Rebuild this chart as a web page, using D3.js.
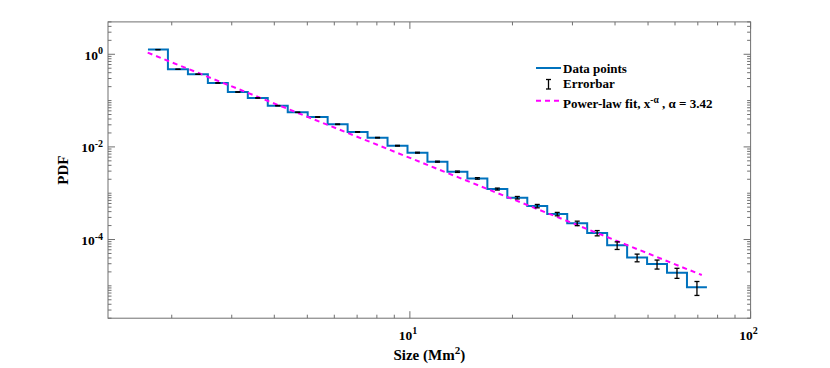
<!DOCTYPE html>
<html><head><meta charset="utf-8">
<script src="https://cdn.jsdelivr.net/npm/d3@7"></script>
<style>body{margin:0;background:#fff}svg{display:block}</style>
</head><body>
<svg id="c" width="830" height="368"></svg>
<script>
// Bin edges (Mm^2), log-uniform histogram bins
const binEdges = [1.703,1.949,2.231,2.553,2.922,3.344,3.827,4.380,5.012,5.736,6.565,7.513,8.598,9.840,11.26,12.89,14.75,16.88,19.32,22.11,25.30,28.96,33.14,37.93,43.41,49.68,56.84,65.05,74.44];
// PDF values per bin
const pdfValues = [1.26,0.474,0.37,0.24,0.153,0.114,0.0776,0.0558,0.0442,0.0308,0.021,0.0158,0.0106,0.0075,0.0048,0.00291,0.00209,0.00123,0.0008,0.000528,0.000355,0.000224,0.000138,7.5e-5,4.07e-5,2.95e-5,1.92e-5,9.3e-6];
// Error bar half-lengths
const pdfErrors = [0.004,0.002,0.002,0.0015,0.001,0.0009,0.0007,0.0005,0.0005,0.0004,0.0003,0.00025,0.0002,0.00016,0.00012,0.0001,0.00008,0.00006,0.00005,0.000044,0.00003,0.000025,0.000018,0.000014,0.0000077,0.0000065,0.0000047,0.0000031];
// Power-law fit line endpoints
const fitX = [1.70, 71.9];
const fitY = [1.083, 1.71e-5];
const xTicks = [10, 100];
const xTickExp = ["1", "2"];
const yTicks = [1, 1e-2, 1e-4];
const yTickExp = ["0", "-2", "-4"];

const svg = d3.select("#c");
const L = 108, R = 750.6, T = 21.9, B = 318.2;
const x = d3.scaleLog().domain([1.3, 100]).range([L, R]);
const y = d3.scaleLog().domain([2e-6, 5]).range([B, T]);
const axCol = "#707070";
const font = "'Liberation Serif','Times New Roman',serif";

// minor ticks
const xMinor = [], yMinor = [];
for (let d = 1; d <= 10; d *= 10) for (let k = 1; k < 10; k++) { const v = k * d; if (v >= 1.3 && v <= 100 && !xTicks.includes(v)) xMinor.push(v); }
for (let e = -6; e <= 0; e++) for (let k = 1; k < 10; k++) { const v = k * Math.pow(10, e); if (v >= 2e-6 && v <= 5 && !yTicks.some(t => Math.abs(t - v) / v < 1e-6)) yMinor.push(v); }

const g = svg.append("g");
function tick(x1, y1, x2, y2) { g.append("line").attr("x1", x1).attr("y1", y1).attr("x2", x2).attr("y2", y2).attr("stroke", axCol).attr("stroke-width", 1); }
xMinor.forEach(v => { const px = x(v); tick(px, B, px, B - 3.5); tick(px, T, px, T + 3.5); });
xTicks.forEach(v => { const px = x(v); tick(px, B, px, B - 7); tick(px, T, px, T + 7); });
yMinor.forEach(v => { const py = y(v); tick(L, py, L + 3.5, py); tick(R, py, R - 3.5, py); });
yTicks.forEach(v => { const py = y(v); tick(L, py, L + 7, py); tick(R, py, R - 7, py); });

g.append("rect").attr("x", L).attr("y", T).attr("width", R - L).attr("height", B - T)
  .attr("fill", "none").attr("stroke", axCol).attr("stroke-width", 1);

// tick labels
xTicks.forEach((v, i) => {
  const t = svg.append("text").attr("x", x(v) - 2).attr("y", 339.5).attr("text-anchor", "middle")
    .attr("font-family", font).attr("font-weight", "bold").attr("font-size", 13.5).attr("fill", "#000");
  t.append("tspan").text("10");
  t.append("tspan").attr("dy", -5.5).attr("font-size", 10).text(xTickExp[i]);
});
yTicks.forEach((v, i) => {
  const t = svg.append("text").attr("x", 103).attr("y", y(v) + 5.5).attr("text-anchor", "end")
    .attr("font-family", font).attr("font-weight", "bold").attr("font-size", 13.5).attr("fill", "#000");
  t.append("tspan").text("10");
  t.append("tspan").attr("dy", -5.5).attr("font-size", 10).text(yTickExp[i]);
});

// axis labels
const xl = svg.append("text").attr("x", (L + R) / 2).attr("y", 360).attr("text-anchor", "middle")
  .attr("font-family", font).attr("font-weight", "bold").attr("font-size", 15).attr("fill", "#000");
xl.append("tspan").text("Size (Mm");
xl.append("tspan").attr("dy", -6).attr("font-size", 11).text("2");
xl.append("tspan").attr("dy", 6).text(")");
svg.append("text").attr("transform", `translate(68,${(T + B) / 2}) rotate(-90)`).attr("text-anchor", "middle")
  .attr("font-family", font).attr("font-weight", "bold").attr("font-size", 15).attr("fill", "#000").text("PDF");

// stairs
const stepPts = pdfValues.map((v, i) => [binEdges[i], v]);
stepPts.push([binEdges[binEdges.length - 1], pdfValues[pdfValues.length - 1]]);
const stepLine = d3.line().x(d => x(d[0])).y(d => y(d[1])).curve(d3.curveStepAfter);
svg.append("path").attr("d", stepLine(stepPts)).attr("fill", "none").attr("stroke", "#0072BD").attr("stroke-width", 2);

// fit
svg.append("path").attr("d", d3.line().x(d => x(d[0])).y(d => y(d[1]))(fitX.map((v, i) => [v, fitY[i]])))
  .attr("fill", "none").attr("stroke", "#ff00ff").attr("stroke-width", 2).attr("stroke-dasharray", "5,4");

// error bars
const eg = svg.append("g").attr("stroke", "#000").attr("stroke-width", 1.3);
pdfValues.forEach((v, i) => {
  const cx = x(Math.sqrt(binEdges[i] * binEdges[i + 1]));
  const y1 = y(v + pdfErrors[i]), y2 = y(v - pdfErrors[i]);
  eg.append("line").attr("x1", cx).attr("x2", cx).attr("y1", y1).attr("y2", y2);
  eg.append("line").attr("x1", cx - 2.5).attr("x2", cx + 2.5).attr("y1", y1).attr("y2", y1);
  eg.append("line").attr("x1", cx - 2.5).attr("x2", cx + 2.5).attr("y1", y2).attr("y2", y2);
});

// legend
const lg = svg.append("g");
const tx = 563;
lg.append("line").attr("x1", 536).attr("x2", 561).attr("y1", 68).attr("y2", 68).attr("stroke", "#0072BD").attr("stroke-width", 2);
lg.append("line").attr("x1", 548.5).attr("x2", 548.5).attr("y1", 79.5).attr("y2", 89).attr("stroke", "#000").attr("stroke-width", 1.3);
lg.append("line").attr("x1", 546).attr("x2", 551).attr("y1", 79.5).attr("y2", 79.5).attr("stroke", "#000").attr("stroke-width", 1.3);
lg.append("line").attr("x1", 546).attr("x2", 551).attr("y1", 89).attr("y2", 89).attr("stroke", "#000").attr("stroke-width", 1.3);
lg.append("line").attr("x1", 536).attr("x2", 561).attr("y1", 100.7).attr("y2", 100.7).attr("stroke", "#ff00ff").attr("stroke-width", 2).attr("stroke-dasharray", "5,4");
function ltxt(yb) { return lg.append("text").attr("x", tx).attr("y", yb).attr("font-family", font).attr("font-weight", "bold").attr("font-size", 13).attr("fill", "#000"); }
ltxt(72.5).text("Data points");
ltxt(87.5).text("Errorbar");
const t3 = ltxt(108);
t3.append("tspan").text("Power-law fit, x");
t3.append("tspan").attr("dy", -5.5).attr("font-size", 9.5).text("-α");
t3.append("tspan").attr("dy", 5.5).text(" , α = 3.42");
</script>
</body></html>
